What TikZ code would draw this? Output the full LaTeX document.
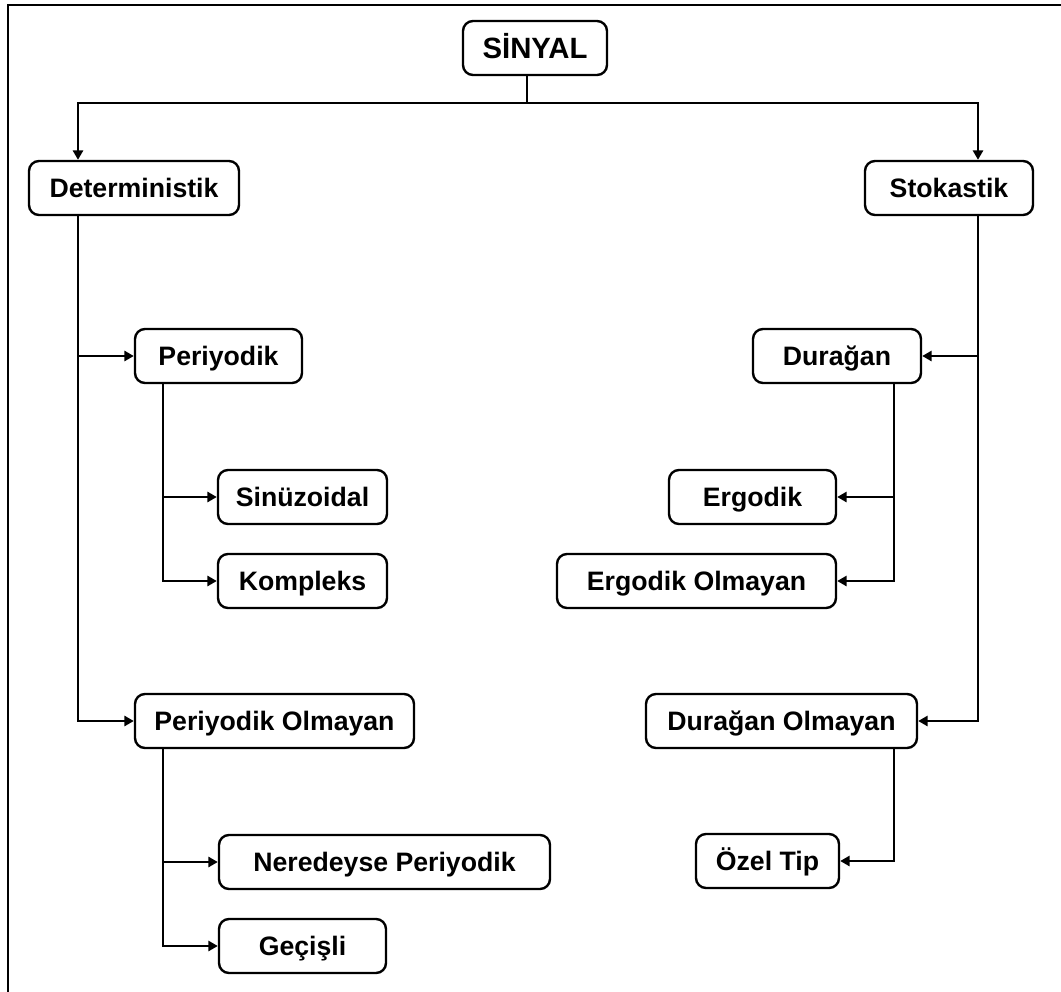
\documentclass[tikz,border=0pt]{standalone}
\usepackage{fontspec}
\setmainfont{Liberation Sans}
\usetikzlibrary{arrows.meta}

\begin{document}
\begin{tikzpicture}[x=0.75pt, y=-0.75pt,
  box/.style={draw, line width=1.8pt, rounded corners=7.5pt, fill=white,
    minimum height=40.5pt, inner sep=0pt, text height=14.3pt, text depth=0pt,
    font=\fontsize{20}{24}\selectfont\bfseries},
  title/.style={text height=15.8pt, font=\fontsize{22}{26}\selectfont\bfseries},
  w/.style={minimum width=#1*0.75pt},
  link/.style={line width=1.8pt},
  arr/.style={link, -{Triangle[length=7pt,width=7.5pt]}},
  frame/.style={line width=2.2pt}]

\useasboundingbox (0,0) rectangle (1061,992);

% frame on the left and top edges
\draw[frame] (8,992) -- (8,5) -- (1061,5);

% nodes
\node[box, title, w=144] (sinyal) at (535,48) {SİNYAL};
\node[box, w=210] (det)  at (134,188)   {Deterministik};
\node[box, w=168] (sto)  at (949,188)   {Stokastik};
\node[box, w=167] (per)  at (218.5,356) {Periyodik};
\node[box, w=169] (sin)  at (302.5,497) {Sinüzoidal};
\node[box, w=169] (kom)  at (302.5,581) {Kompleks};
\node[box, w=279] (pero) at (274.5,721) {Periyodik Olmayan};
\node[box, w=331] (ner)  at (384.5,862) {Neredeyse Periyodik};
\node[box, w=167] (gec)  at (302.5,946) {Geçişli};
\node[box, w=168] (dur)  at (837,356)   {Durağan};
\node[box, w=167] (erg)  at (752.5,497) {Ergodik};
\node[box, w=279] (ergo) at (696.5,581) {Ergodik Olmayan};
\node[box, w=271] (duro) at (781.5,721) {Durağan Olmayan};
\node[box, w=143] (oz)   at (767.5,861) {Özel Tip};

% trunk positions of the connector lines
\coordinate (j)   at (527,103);
\coordinate (dl)  at (78,0);
\coordinate (sl)  at (978,0);
\coordinate (pl)  at (163,0);
\coordinate (dr)  at (894,0);

% top split
\draw[link] (j |- sinyal.south) -- (j);
\draw[arr] (j) -| (dl |- det.north);
\draw[arr] (j) -| (sl |- sto.north);

% deterministic branch
\draw[arr] (dl |- det.south) |- (pero.west);
\draw[arr] (dl |- per.west) -- (per.west);
\draw[arr] (pl |- per.south) |- (kom.west);
\draw[arr] (pl |- sin.west) -- (sin.west);
\draw[arr] (pl |- pero.south) |- (gec.west);
\draw[arr] (pl |- ner.west) -- (ner.west);

% stochastic branch
\draw[arr] (sl |- sto.south) |- (duro.east);
\draw[arr] (sl |- dur.east) -- (dur.east);
\draw[arr] (dr |- dur.south) |- (ergo.east);
\draw[arr] (dr |- erg.east) -- (erg.east);
\draw[arr] (dr |- duro.south) |- (oz.east);
\end{tikzpicture}
\end{document}
